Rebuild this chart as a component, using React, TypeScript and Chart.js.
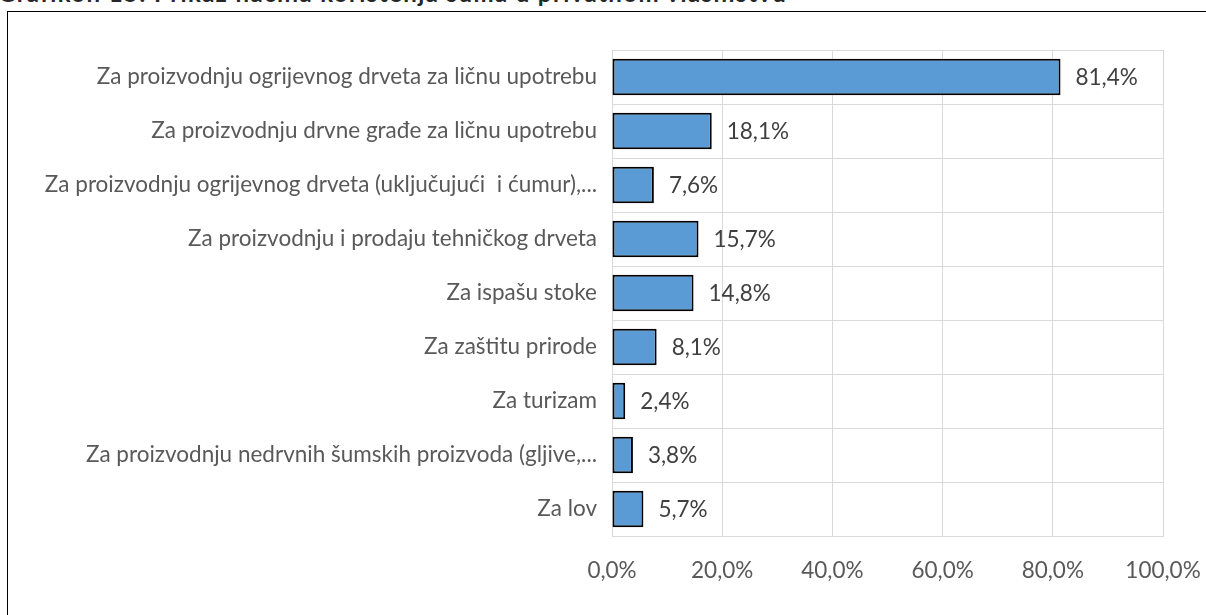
import React, { useEffect, useRef } from "react";
import { Chart, registerables } from "chart.js";

Chart.register(...registerables);

const titleText = "Grafikon 15: Prikaz načina korištenja šuma u privatnom vlasništvu";

const categories = [
  "Za proizvodnju ogrijevnog drveta za ličnu upotrebu",
  "Za proizvodnju drvne građe za ličnu upotrebu",
  "Za proizvodnju ogrijevnog drveta (uključujući  i ćumur),...",
  "Za proizvodnju i prodaju tehničkog drveta",
  "Za ispašu stoke",
  "Za zaštitu prirode",
  "Za turizam",
  "Za proizvodnju nedrvnih šumskih proizvoda (gljive,...",
  "Za lov",
];

const values = [81.4, 18.1, 7.6, 15.7, 14.8, 8.1, 2.4, 3.8, 5.7];

const xTicks = [0, 20, 40, 60, 80, 100];

const FONT = "Lato, 'Open Sans', sans-serif";
const FS = 22.5;

const fmt = (v: number) => v.toFixed(1).replace(".", ",") + "%";

const valueLabels = {
  id: "valueLabels",
  afterDatasetsDraw(chart: any) {
    const ctx = chart.ctx;
    const meta = chart.getDatasetMeta(0);
    ctx.save();
    ctx.font = `${FS}px ${FONT}`;
    ctx.fillStyle = "#404040";
    ctx.textAlign = "left";
    ctx.textBaseline = "middle";
    meta.data.forEach((bar: any, i: number) => {
      ctx.fillText(fmt(values[i]), bar.x + 15, bar.y + 1);
    });
    ctx.restore();
  },
};

export default function App() {
  const ref = useRef<HTMLCanvasElement | null>(null);

  useEffect(() => {
    if (!ref.current) return;
    const chart = new Chart(ref.current, {
      type: "bar",
      data: {
        labels: categories,
        datasets: [
          {
            data: values,
            backgroundColor: "#5B9BD5",
            borderColor: "#000000",
            borderWidth: 2,
            borderSkipped: false,
            barPercentage: 0.68,
            categoryPercentage: 1,
          },
        ],
      },
      options: {
        indexAxis: "y",
        animation: false,
        responsive: false,
        maintainAspectRatio: false,
        layout: { padding: { left: 12, right: 43, top: 50, bottom: 0 } },
        plugins: {
          legend: { display: false },
          tooltip: { enabled: false },
          title: { display: false },
        },
        scales: {
          x: {
            min: 0,
            max: 100,
            afterFit: (s: any) => {
              s.height = 79;
            },
            afterBuildTicks: (s: any) => {
              s.ticks = xTicks.map((v) => ({ value: v }));
            },
            grid: {
              color: "#D9D9D9",
              lineWidth: 1,
              drawTicks: true,
              tickLength: 16,
              tickColor: "rgba(0,0,0,0)",
            },
            border: { color: "#D9D9D9" },
            ticks: {
              padding: 5,
              color: "#595959",
              font: { family: FONT, size: FS },
              callback: (v: any) => fmt(Number(v)),
              maxRotation: 0,
            },
          },
          y: {
            afterFit: (s: any) => {
              s.width = 600;
            },
            grid: { color: "#D9D9D9", lineWidth: 1, drawTicks: false, offset: true },
            border: { color: "#D9D9D9" },
            ticks: {
              padding: 15,
              color: "#595959",
              font: { family: FONT, size: FS },
              autoSkip: false,
            },
          },
        },
      },
      plugins: [valueLabels],
    });
    return () => chart.destroy();
  }, []);

  return (
    <div
      style={{
        position: "fixed",
        left: 0,
        top: 0,
        width: 1206,
        height: 615,
        background: "#fff",
        overflow: "hidden",
      }}
    >
      <div
        style={{
          position: "absolute",
          left: -2,
          top: -22,
          fontFamily: FONT,
          fontSize: 24,
          fontWeight: 700,
          letterSpacing: 1.4,
          color: "#262626",
          whiteSpace: "nowrap",
        }}
      >
        {titleText}
      </div>
      <div
        style={{
          position: "absolute",
          left: 7,
          top: 11,
          width: 1400,
          height: 800,
          border: "1.5px solid #000",
          boxSizing: "border-box",
        }}
      />
      <canvas
        ref={ref}
        width={1206}
        height={615}
        style={{ position: "absolute", left: 0, top: 0, width: 1206, height: 615 }}
      />
    </div>
  );
}
